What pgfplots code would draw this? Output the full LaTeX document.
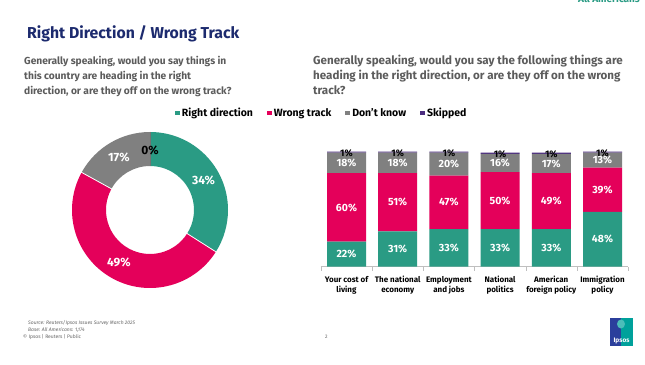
\documentclass[border=0pt]{standalone}
\usepackage{fontspec}
\setmainfont{Fira Sans}
\usepackage{pgfplots}
\usepackage{pgfplotstable}
\pgfplotsset{compat=1.18}
\definecolor{crd}{HTML}{2A9B84}
\definecolor{cwt}{HTML}{E4005A}
\definecolor{cdk}{HTML}{808080}
\definecolor{csk}{HTML}{4B2C7F}
\definecolor{navy}{HTML}{1C2A6E}
\definecolor{qgray}{HTML}{5C5C5C}
\definecolor{ipblue}{HTML}{2B3F9C}
\definecolor{ipteal}{HTML}{00A19B}

\pgfplotstableread{
x rd wt dk sk
0 22 60 18 1
1 31 51 18 1
2 33 47 20 1
3 33 50 16 1
4 33 49 17 1
5 48 39 13 1
}\bars

% donut values (percent)
\def\dRD{34}\def\dWT{49}\def\dDK{17}\def\dSK{0}

\begin{document}
\begin{tikzpicture}
\path[use as bounding box] (0pt,0pt) rectangle (645pt,364pt);
\clip (0pt,0pt) rectangle (645pt,364pt);
\fill[white] (0pt,0pt) rectangle (645pt,364pt);

% header texts
\node[anchor=base east, inner sep=0, font=\bfseries\fontsize{10}{12}\selectfont, text=crd] at (640pt,361pt) {All Americans};
\node[anchor=base west, inner sep=0, font=\bfseries\fontsize{15.8}{18}\selectfont, text=navy] at (27pt,325pt) {Right Direction / Wrong Track};

\begin{scope}[every node/.style={anchor=base west, inner sep=0, font=\bfseries\fontsize{10.2}{12}\selectfont, text=qgray}]
\node at (24pt,299.5pt) {Generally speaking, would you say things in};
\node at (24pt,284.7pt) {this country are heading in the right};
\node at (24pt,269.9pt) {direction, or are they off on the wrong track?};
\end{scope}
\begin{scope}[every node/.style={anchor=base west, inner sep=0, font=\bfseries\fontsize{11.6}{13}\selectfont, text=qgray}]
\node at (313pt,299pt) {Generally speaking, would you say the following things are};
\node at (313pt,284.2pt) {heading in the right direction, or are they off on the wrong};
\node at (313pt,269.4pt) {track?};
\end{scope}

% donut angles
\pgfmathsetmacro\aA{90}
\pgfmathsetmacro\aB{\aA-\dRD*3.6}
\pgfmathsetmacro\aC{\aB-\dWT*3.6}
\pgfmathsetmacro\aD{\aC-\dDK*3.6}
\pgfmathsetmacro\aE{\aD-\dSK*3.6}
\pgfmathsetmacro\mA{(\aA+\aB)/2}
\pgfmathsetmacro\mB{(\aB+\aC)/2}
\pgfmathsetmacro\mC{(\aC+\aD)/2}
\pgfmathsetmacro\mD{(\aD+\aE)/2}

\begin{axis}[at={(72pt,76pt)}, anchor=south west, width=156pt, height=156pt,
  scale only axis, hide axis, xmin=-1, xmax=1, ymin=-1, ymax=1]
\fill[crd] ([shift={(\aA:78pt)}]axis cs:0,0) arc[start angle=\aA, end angle=\aB, radius=78pt]
  -- ([shift={(\aB:44pt)}]axis cs:0,0) arc[start angle=\aB, end angle=\aA, radius=44pt] -- cycle;
\fill[cwt] ([shift={(\aB:78pt)}]axis cs:0,0) arc[start angle=\aB, end angle=\aC, radius=78pt]
  -- ([shift={(\aC:44pt)}]axis cs:0,0) arc[start angle=\aC, end angle=\aB, radius=44pt] -- cycle;
\fill[cdk] ([shift={(\aC:78pt)}]axis cs:0,0) arc[start angle=\aC, end angle=\aD, radius=78pt]
  -- ([shift={(\aD:44pt)}]axis cs:0,0) arc[start angle=\aD, end angle=\aC, radius=44pt] -- cycle;
\draw[white, line width=0.8pt] ([shift={(\aB:43pt)}]axis cs:0,0) -- ([shift={(\aB:79pt)}]axis cs:0,0);
\draw[white, line width=0.8pt] ([shift={(\aC:43pt)}]axis cs:0,0) -- ([shift={(\aC:79pt)}]axis cs:0,0);
\draw[black!55, line width=0.7pt] ([shift={(\aD:44pt)}]axis cs:0,0) -- ([shift={(\aD:78pt)}]axis cs:0,0);
\node[font=\bfseries\fontsize{12}{14}\selectfont, text=white] at ([shift={(\mA:61pt)}]axis cs:0,0) {\dRD\%};
\node[font=\bfseries\fontsize{12}{14}\selectfont, text=white] at ([shift={(\mB:61pt)}]axis cs:0,0) {\dWT\%};
\node[font=\bfseries\fontsize{12}{14}\selectfont, text=white] at ([shift={(\mC:61pt)}]axis cs:0,0) {\dDK\%};
\node[font=\bfseries\fontsize{12}{14}\selectfont, text=black] at ([shift={(\mD:60pt)}]axis cs:0,0) {\dSK\%};
\end{axis}

% stacked bars
\begin{axis}[at={(320.9pt,97.3pt)}, anchor=south west,
  width=307.2pt, height=115.1pt, scale only axis,
  ybar stacked, bar width=39pt,
  xmin=-0.5, xmax=5.5, ymin=0, ymax=101, enlargelimits=false,
  axis y line=none, axis x line*=bottom,
  x axis line style={draw=black!25, -},
  xtick={0,...,5},
  xticklabels={{Your cost of\\living},{The national\\economy},{Employment\\and jobs},{National\\politics},{American\\foreign policy},{Immigration\\policy}},
  major tick length=0pt,
  minor xtick={-0.5,0.5,...,5.5}, minor tick length=4pt, tick align=outside,
  tick style={draw=black!25},
  xticklabel style={align=center, font=\bfseries\fontsize{8}{10}\selectfont, text=black, yshift=-6pt},
  legend style={at={(-0.475,1.335)}, anchor=west, draw=none, fill=none,
    legend columns=-1, font=\bfseries\fontsize{10.5}{12}\selectfont,
    /tikz/every even column/.append style={column sep=12pt},
    legend cell align=left, inner sep=0pt},
  legend image code/.code={\fill[#1] (0pt,-2.4pt) rectangle (4.8pt,2.4pt);},
]
\addplot[fill=crd, draw=none] table[x=x,y=rd]{\bars};
\addplot[fill=cwt, draw=none] table[x=x,y=wt]{\bars};
\addplot[fill=cdk, draw=none] table[x=x,y=dk]{\bars};
\addplot[fill=csk, draw=none] table[x=x,y=sk]{\bars};
\legend{Right direction, Wrong track, Don't know, Skipped}
\end{axis}

% bar value labels
\begin{axis}[at={(320.9pt,97.3pt)}, anchor=south west,
  width=307.2pt, height=115.1pt, scale only axis, hide axis,
  xmin=-0.5, xmax=5.5, ymin=0, ymax=101,
  /pgf/number format/assume math mode=true,
  point meta=explicit,
  nodes near coords={\pgfmathprintnumber[fixed,precision=0]{\pgfplotspointmeta}\%},
  every node near coord/.append style={anchor=center, inner sep=0,
     font=\bfseries\fontsize{10.5}{12}\selectfont, text=white}]
\addplot[draw=none, mark=none] table[x=x, y expr=\thisrow{rd}/2, meta=rd]{\bars};
\addplot[draw=none, mark=none] table[x=x, y expr=\thisrow{rd}+\thisrow{wt}/2, meta=wt]{\bars};
\addplot[draw=none, mark=none] table[x=x, y expr=\thisrow{rd}+\thisrow{wt}+\thisrow{dk}/2, meta=dk]{\bars};
\addplot[draw=none, mark=none, every node near coord/.append style={text=black, font=\bfseries\fontsize{9.5}{11}\selectfont}]
   table[x=x, y expr=\thisrow{rd}+\thisrow{wt}+\thisrow{dk}-0.5, meta=sk]{\bars};
\end{axis}

% footer
\begin{scope}[every node/.style={anchor=base west, inner sep=0, text=black!60}]
\node[font=\itshape\fontsize{5}{6}\selectfont] at (28pt,39.5pt) {Source: Reuters/Ipsos Issues Survey March 2025};
\node[font=\itshape\fontsize{5}{6}\selectfont] at (28pt,32.5pt) {Base: All Americans: 1,174};
\node[font=\fontsize{5}{6}\selectfont] at (23pt,25.5pt) {\textcopyright{} Ipsos | Reuters | Public};
\node[font=\fontsize{5}{6}\selectfont] at (325pt,25pt) {2};
\end{scope}
% logo
\fill[ipblue] (610pt,18pt) rectangle (621pt,46pt);
\fill[ipteal] (621pt,18pt) rectangle (633pt,46pt);
\fill[ipteal!70!white] (621pt,40pt) ellipse (4pt and 4.5pt);
\node[anchor=base, inner sep=0, text=white, font=\bfseries\fontsize{6.5}{7}\selectfont] at (621.5pt,21pt) {Ipsos};
\end{tikzpicture}
\end{document}
